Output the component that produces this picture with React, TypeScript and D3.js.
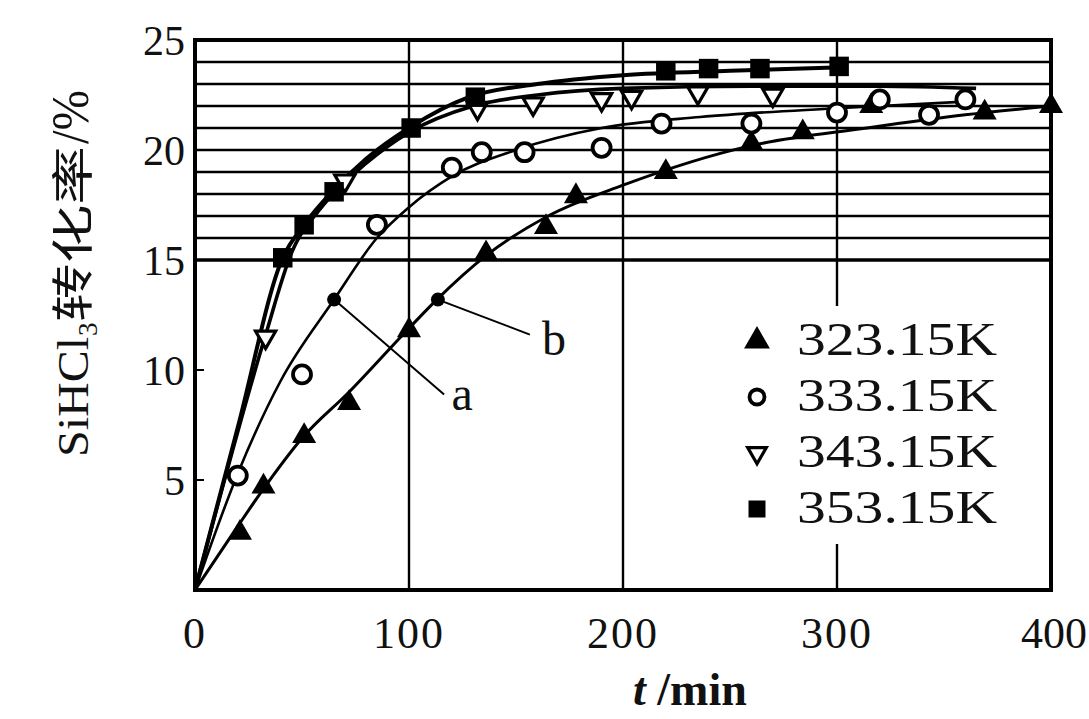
import React from 'react'
import * as d3 from 'd3'

const W = 1089
const H = 719

const xTicks = [0, 100, 200, 300, 400]
const yTicks = [5, 10, 15, 20, 25]
const gridFine = [15, 16, 17, 18, 19, 20, 21, 22, 23, 24]
const gridV = [100, 200, 300]
const innerTicks = [5, 10]
const temps = ['323.15K', '333.15K', '343.15K', '353.15K']

// measured points [t/min, conversion %]
const pts323 = [[21, 2.6], [32, 4.7], [51, 7.0], [72, 8.5], [100, 11.8], [136, 15.3], [164, 16.5], [178, 17.9], [220, 19.0], [260, 20.3], [284, 20.8], [316, 22.0], [369, 21.7], [400, 22.0]]
const pts333 = [[20, 5.2], [50, 9.8], [85, 16.6], [120, 19.2], [134, 19.9], [154, 19.9], [190, 20.1], [218, 21.2], [260, 21.2], [300, 21.7], [320, 22.3], [343, 21.6], [360, 22.3]]
const pts343 = [[33, 11.5], [70, 18.6], [132, 21.9], [158, 22.1], [190, 22.3], [204, 22.4], [235, 22.6], [270, 22.5]]
const pts353 = [[41, 15.1], [51, 16.6], [65, 18.1], [101, 21.0], [131, 22.4], [220, 23.6], [240, 23.7], [264, 23.7], [301, 23.8]]

// curves as drawn through the points
const fit323 = [[0, 0], [20, 2.9], [32, 4.6], [50, 6.9], [72, 9.0], [100, 11.9], [113, 13.2], [136, 15.2], [165, 17.0], [200, 18.4], [260, 20.2], [314, 21.0], [360, 21.6], [400, 22.0]]
const fit333 = [[0, 0], [20, 5.3], [40, 9.5], [65, 13.2], [85, 16.0], [100, 17.4], [120, 18.8], [150, 20.0], [190, 21.0], [236, 21.5], [300, 21.9], [360, 22.2]]
const fit343 = [[0, 0], [33, 11.6], [45, 15.3], [60, 17.5], [80, 19.4], [100, 20.8], [130, 22.0], [160, 22.5], [200, 22.8], [260, 22.9], [320, 22.9], [365, 22.8]]
const fit353 = [[0, 0], [20, 7.4], [41, 15.1], [51, 16.6], [65, 18.2], [80, 19.6], [100, 21.0], [128, 22.4], [160, 23.0], [200, 23.4], [250, 23.6], [300, 23.75]]

const annLabels = ['a', 'b']
const annPoints = [[65, 13.2], [113.5, 13.2]]

const FONT = "'Liberation Serif', 'Times New Roman', serif"

const x = d3.scaleLinear().domain([0, 400]).range([195, 1051])
const y = d3.scaleLinear().domain([0, 25]).range([590, 40])

const line = d3.line<number[]>()
  .x(d => x(d[0]))
  .y(d => y(d[1]))
  .curve(d3.curveMonotoneX)

const series = [
  { name: temps[0], pts: pts323, fit: fit323, kind: 'up', lw: 3 },
  { name: temps[1], pts: pts333, fit: fit333, kind: 'circle', lw: 2.6 },
  { name: temps[2], pts: pts343, fit: fit343, kind: 'down', lw: 3.6 },
  { name: temps[3], pts: pts353, fit: fit353, kind: 'square', lw: 4 }
]

function Marker ({ kind, cx, cy, legend }: { kind: string, cx: number, cy: number, legend?: boolean }) {
  if (kind === 'circle') {
    return <circle cx={cx} cy={cy} r={legend ? 7.5 : 9} fill='#fff' stroke='#000' strokeWidth={3.8} />
  }
  if (kind === 'up') {
    const d = d3.symbol(d3.symbolTriangle, legend ? 290 : 250)()
    return <path d={d || ''} transform={`translate(${cx},${cy})`} fill='#000' />
  }
  if (kind === 'down') {
    const d = d3.symbol(d3.symbolTriangle, legend ? 150 : 175)()
    return <path d={d || ''} transform={`translate(${cx},${cy}) rotate(180)`} fill='#fff' stroke='#000' strokeWidth={3.2} />
  }
  const d = d3.symbol(d3.symbolSquare, legend ? 289 : 380)()
  return <path d={d || ''} transform={`translate(${cx},${cy})`} fill='#000' />
}

// pixel offsets of leader ends and letters from the annotated points
const leaderOff = [[110, 95], [92, 35]]
const letterOff = [[128, 110], [116, 55]]

export default function App () {
  const legendX = 757
  const legendRows = [355, 411, 467, 523]

  return (
    <svg width={W} height={H} style={{ position: 'absolute', left: 0, top: 0 }} fontFamily={FONT}>
      <rect width={W} height={H} fill='#fff' />

      {gridFine.map(v => (
        <line key={'h' + v} x1={x(0)} x2={x(400)} y1={y(v)} y2={y(v)}
          stroke='#000' strokeWidth={v === 15 ? 3.6 : 2.4} />
      ))}
      {gridV.map(v => (
        <line key={'v' + v} x1={x(v)} x2={x(v)} y1={y(25)} y2={y(0)} stroke='#000' strokeWidth={2.4} />
      ))}
      {innerTicks.map(v => (
        <line key={'t' + v} x1={x(0)} x2={x(0) + 9} y1={y(v)} y2={y(v)} stroke='#000' strokeWidth={2} />
      ))}

      {/* legend box blanks the grid behind it */}
      <rect x={735} y={306} width={275} height={238} fill='#fff' />

      {series.map(s => (
        <path key={'c' + s.name} d={line(s.fit) || ''} fill='none' stroke='#000' strokeWidth={s.lw} strokeLinejoin='round' />
      ))}
      {series.map(s => s.pts.map((p, i) => (
        <Marker key={s.name + i} kind={s.kind} cx={x(p[0])} cy={y(p[1])} />
      )))}

      {annPoints.map((p, i) => {
        const px = x(p[0])
        const py = y(p[1])
        return (
          <g key={'a' + i}>
            <circle cx={px} cy={py} r={7} fill='#000' />
            <line x1={px} y1={py} x2={px + leaderOff[i][0]} y2={py + leaderOff[i][1]} stroke='#000' strokeWidth={2} />
            <text x={px + letterOff[i][0]} y={py + letterOff[i][1]} fontSize={48} textAnchor='middle' fill='#111'>{annLabels[i]}</text>
          </g>
        )
      })}

      <rect x={x(0)} y={y(25)} width={x(400) - x(0)} height={y(0) - y(25)} fill='none' stroke='#000' strokeWidth={4} />

      {yTicks.map(v => (
        <text key={'yl' + v} x={185} y={y(v) + 15} fontSize={42} textAnchor='end' fill='#111'>{v}</text>
      ))}
      {xTicks.map(v => (
        <text key={'xl' + v} x={v === 400 ? 1087 : x(v)} y={648} fontSize={44}
          textAnchor={v === 400 ? 'end' : 'middle'} letterSpacing={v === 400 ? 0 : 2} fill='#111'>{v}</text>
      ))}

      <text x={633} y={705} fontSize={46} fontWeight='bold' fill='#111'>
        <tspan fontStyle='italic'>t</tspan>
        <tspan> /min</tspan>
      </text>

      <g transform='translate(88,457) rotate(-90)' fill='#111'>
        <text x={0} y={0} fontSize={45} textLength={120} lengthAdjust='spacingAndGlyphs'>SiHCl</text>
        <text x={121} y={9} fontSize={27}>3</text>
        <text x={135} y={0} fontSize={42} fontFamily="'Noto Sans CJK SC', sans-serif"
          textLength={176} lengthAdjust='spacingAndGlyphs'>转化率</text>
        <text x={313} y={0} fontSize={52} textLength={54} lengthAdjust='spacingAndGlyphs'>/%</text>
      </g>

      {series.map((s, i) => (
        <g key={'lg' + s.name}>
          <Marker kind={s.kind} cx={legendX} cy={legendRows[i] - 14} legend />
          <text x={797} y={legendRows[i]} fontSize={46} textLength={200} lengthAdjust='spacingAndGlyphs' fill='#111'>{s.name}</text>
        </g>
      ))}
    </svg>
  )
}
